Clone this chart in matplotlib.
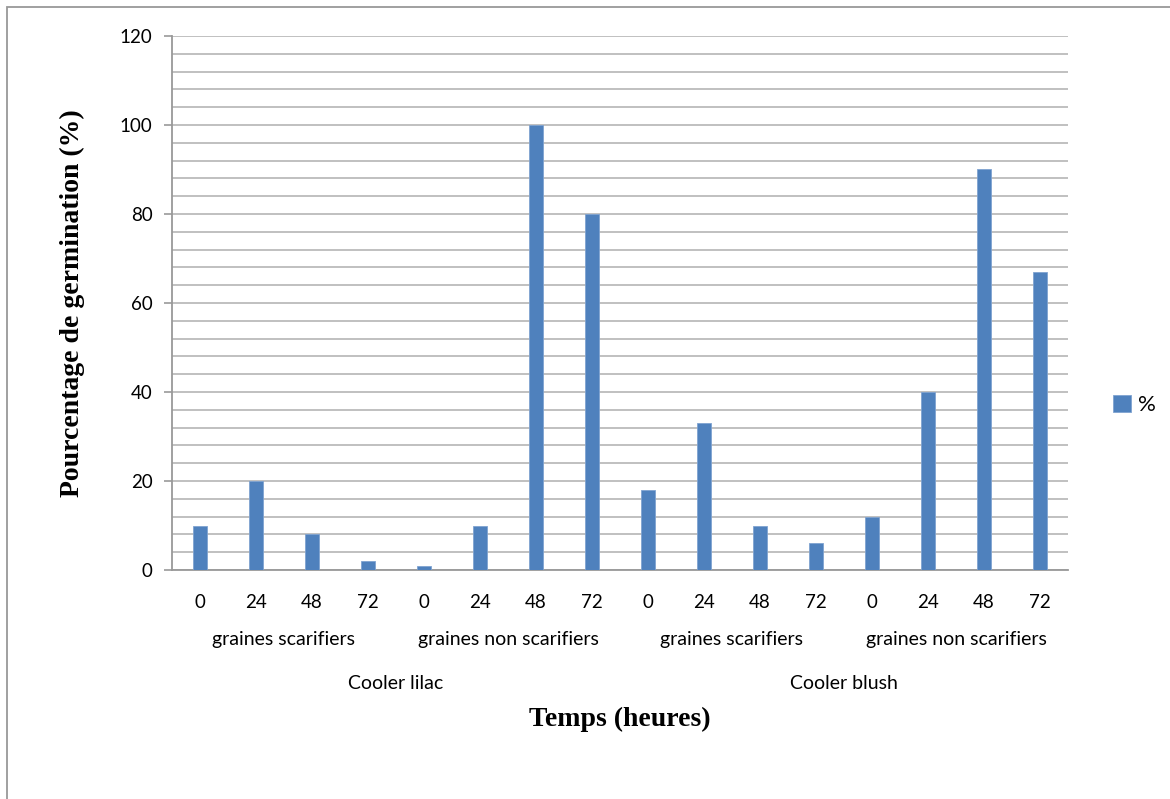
import numpy as np
import matplotlib
matplotlib.use("Agg")
import matplotlib.pyplot as plt
from matplotlib.patches import Rectangle

# germination data: 2 varieties x 2 treatments x 4 durations
varieties = ["Cooler lilac", "Cooler blush"]
treatments = ["graines scarifiers", "graines non scarifiers"]
hours = ["0", "24", "48", "72"]
germination = [10, 20, 8, 2, 1, 10, 100, 80,
               18, 33, 10, 6, 12, 40, 90, 67]

bar_color = "#4F81BD"
grid_color = "#BBBBBB"
label_font = "Lato"
title_font = "Liberation Serif"

fig = plt.figure(figsize=(11.70, 7.99), dpi=100)
ax = fig.add_axes([0.147, 0.2866, 0.7658, 0.6684])

x = np.arange(len(germination))
ax.bar(x, germination, width=0.25, color=bar_color,
       edgecolor="#7FA3D1", linewidth=0.6, label="%", zorder=3)

ax.set_xlim(-0.5, len(germination) - 0.5)
ax.set_ylim(0, 120)
ax.set_yticks(np.arange(0, 121, 20))
ax.set_yticks(np.arange(0, 121, 4), minor=True)
ax.grid(axis="y", which="both", color=grid_color, lw=1.3, zorder=0)
ax.tick_params(axis="y", which="major", length=6, width=1.2, color="#999999",
               labelsize=13.5, pad=8)
ax.tick_params(axis="y", which="minor", length=0)
for lab in ax.get_yticklabels():
    lab.set_fontfamily(label_font)

# category axis: hours, treatment, variety
ax.set_xticks(x)
ax.set_xticklabels(hours * (len(germination) // len(hours)),
                   fontfamily=label_font, fontsize=13.5)
ax.tick_params(axis="x", length=0, pad=17)

trans = ax.get_xaxis_transform()
n_h = len(hours)
for i in range(len(varieties) * len(treatments)):
    xc = i * n_h + (n_h - 1) / 2
    ax.text(xc, -0.130, treatments[i % len(treatments)], transform=trans,
            ha="center", va="center", fontfamily=label_font, fontsize=14)
for i, name in enumerate(varieties):
    xc = i * n_h * len(treatments) + (n_h * len(treatments) - 1) / 2
    ax.text(xc, -0.213, name, transform=trans,
            ha="center", va="center", fontfamily=label_font, fontsize=14)

ax.text(0.5, -0.279, "Temps (heures)", transform=ax.transAxes,
        ha="center", va="center", fontfamily=title_font,
        fontweight="bold", fontsize=20)
ax.set_ylabel("Pourcentage de germination (%)", fontfamily=title_font,
              fontweight="bold", fontsize=20)
ax.yaxis.set_label_coords(-0.097, 0.5)

for side in ["top", "right"]:
    ax.spines[side].set_visible(False)
for side in ["left", "bottom"]:
    ax.spines[side].set_color("#999999")
    ax.spines[side].set_linewidth(1.3)

leg = ax.legend(loc="center left", bbox_to_anchor=(1.028, 0.309), frameon=False,
                handlelength=0.8, handleheight=0.8, handletextpad=0.3,
                prop={"family": label_font, "size": 16})

# outer chart frame
fig.patches.append(Rectangle((0.006, -0.1), 1.2, 1.091, transform=fig.transFigure,
                             fill=False, edgecolor="#999999", lw=1.3))

fig.savefig("out.png", dpi=100)
